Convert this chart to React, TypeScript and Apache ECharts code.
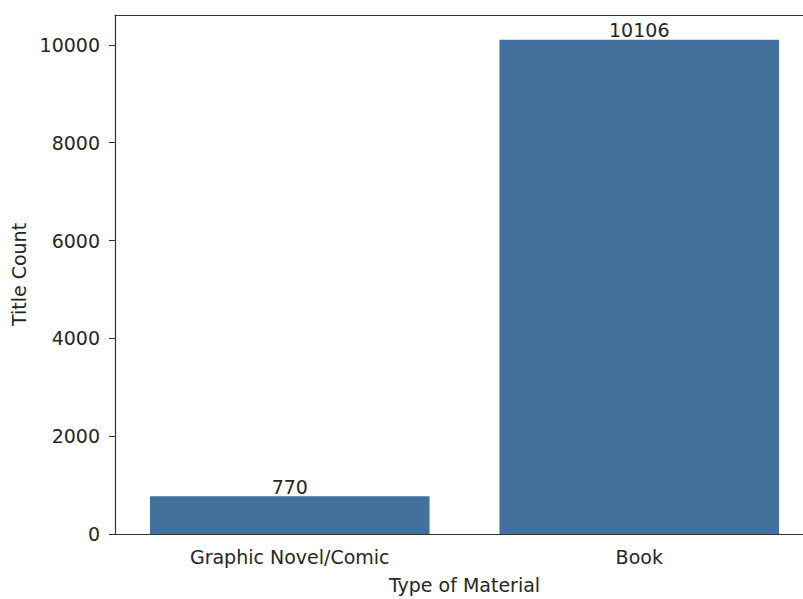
import React, { useEffect, useRef } from "react";
import * as echarts from "echarts";

const categories = ["Graphic Novel/Comic", "Book"];
const titleCounts = [770, 10106];
const yTicks = [0, 2000, 4000, 6000, 8000, 10000];

const FONT = "DejaVu Sans";
const TXT = "#262626";
const FS = 19;

export default function App() {
  const ref = useRef<HTMLDivElement>(null);
  useEffect(() => {
    document.body.style.margin = "0";
    if (!ref.current) return;
    const chart = echarts.init(ref.current, undefined, { renderer: "svg" });
    const yMax = Math.max(...titleCounts) * 1.05;
    chart.setOption({
      animation: false,
      textStyle: { fontFamily: FONT },
      grid: {
        left: 115,
        top: 15,
        bottom: 63,
        right: 0,
        show: false,
      },
      xAxis: [
        {
          type: "category",
          data: categories,
          name: "Type of Material",
          nameLocation: "middle",
          nameGap: 41,
          nameTextStyle: { color: TXT, fontSize: FS, fontFamily: FONT },
          axisLine: { lineStyle: { color: "#333", width: 1.2 } },
          axisTick: { alignWithLabel: true, length: 6, lineStyle: { color: "#333" } },
          axisLabel: { color: TXT, fontSize: FS, fontFamily: FONT, margin: 13 },
        },
        {
          type: "category",
          data: categories,
          position: "top",
          axisLine: { show: true, onZero: false, lineStyle: { color: "#333", width: 1.2 } },
          axisTick: { show: false },
          axisLabel: { show: false },
        },
      ],
      yAxis: {
        type: "value",
        min: 0,
        max: yMax,
        interval: 2000,
        name: "Title Count",
        nameLocation: "middle",
        nameGap: 86,
        nameTextStyle: { color: TXT, fontSize: FS, fontFamily: FONT },
        splitLine: { show: false },
        axisLine: { show: true, lineStyle: { color: "#333", width: 1.2 } },
        axisTick: { show: true, length: 6, customValues: yTicks, lineStyle: { color: "#333" } },
        axisLabel: {
          color: TXT,
          fontSize: FS,
          fontFamily: FONT,
          margin: 15,
          customValues: yTicks,
          formatter: (v: number) => String(v),
        },
      },
      series: [
        {
          type: "bar",
          xAxisIndex: 0,
          data: titleCounts,
          barWidth: "80%",
          itemStyle: { color: "#41719c" },
          label: {
            show: true,
            position: "top",
            distance: 0,
            color: TXT,
            fontSize: FS,
            fontFamily: FONT,
          },
        },
      ],
    });
    return () => chart.dispose();
  }, []);
  return (
    <div style={{ width: 803, height: 599, overflow: "hidden", position: "relative" }}>
      <div ref={ref} style={{ width: 814, height: 599 }} />
    </div>
  );
}
